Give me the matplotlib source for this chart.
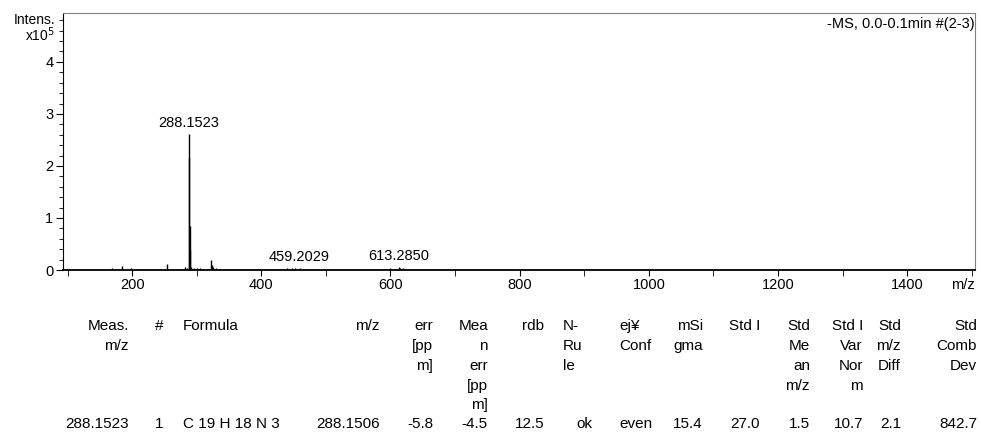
import matplotlib
matplotlib.use("Agg")
import matplotlib.pyplot as plt
from matplotlib.ticker import MultipleLocator

plt.rcParams['font.family'] = ['Liberation Sans', 'DejaVu Sans']

# spectrum (m/z, intensity x10^5)
mz = [169.0, 184.5, 198.5, 213.0, 253.7, 276.0, 282.0, 285.5,
      288.15, 288.6, 289.15, 290.15, 291.2, 296.0, 300.0, 305.0, 310.0,
      322.3, 323.3, 325.0, 330.0, 336.0, 342.0, 350.0, 356.0, 362.0,
      370.0, 378.0, 386.0, 395.0, 405.0, 418.0, 440.0, 447.0, 452.0,
      459.2, 464.0, 575.0, 583.0, 592.0, 600.0, 606.0, 613.3, 615.0,
      620.0, 628.0, 636.0, 645.0, 655.0, 672.0, 700.0, 740.0, 790.0,
      840.0, 880.0, 905.0]
intens = [0.045, 0.08, 0.03, 0.02, 0.12, 0.02, 0.05, 0.04,
          2.62, 2.15, 0.85, 0.38, 0.06, 0.03, 0.03, 0.03, 0.02,
          0.19, 0.10, 0.05, 0.03, 0.02, 0.02, 0.02, 0.02, 0.02,
          0.02, 0.02, 0.02, 0.02, 0.015, 0.015, 0.03, 0.04, 0.03,
          0.04, 0.02, 0.02, 0.02, 0.02, 0.03, 0.02, 0.06, 0.04,
          0.03, 0.02, 0.02, 0.02, 0.02, 0.02, 0.015, 0.015, 0.015,
          0.02, 0.015, 0.015]

peak_labels = ["288.1523", "459.2029", "613.2850"]
peak_mz = [288.15, 459.2, 613.3]
peak_h = [2.62, 0.04, 0.06]

# result table
headers = [["Meas.", "m/z"], ["#"], ["Formula"], ["m/z"], ["err", "[pp", "m]"],
           ["Mea", "n", "err", "[pp", "m]"], ["rdb"], ["N-", "Ru", "le"],
           ["ej¥", "Conf"], ["mSi", "gma"], ["Std I"], ["Std", "Me", "an", "m/z"],
           ["Std I", "Var", "Nor", "m"], ["Std", "m/z", "Diff"], ["Std", "Comb", "Dev"]]
row = ["288.1523", "1", "C 19 H 18 N 3", "288.1506", "-5.8", "-4.5", "12.5",
       "ok", "even", "15.4", "27.0", "1.5", "10.7", "2.1", "842.7"]

W, H = 981, 434
fig = plt.figure(figsize=(W / 100, H / 100), dpi=100)
ax = fig.add_axes([63 / W, (H - 270) / H, (975 - 63) / W, (270 - 13) / H])

ax.vlines(mz, 0, intens, color='black', lw=1.0)
ax.set_xlim(93, 1505)
ax.set_ylim(0, 4.94)

ax.xaxis.set_major_locator(MultipleLocator(200))
ax.xaxis.set_minor_locator(MultipleLocator(100))
ax.yaxis.set_major_locator(MultipleLocator(1))
ax.yaxis.set_minor_locator(MultipleLocator(0.2))
ax.tick_params(axis='both', which='both', direction='out', color='black',
               labelsize=10.5, pad=2)
ax.tick_params(axis='x', which='both', length=4)
ax.tick_params(axis='y', which='major', length=5)
ax.tick_params(axis='y', which='minor', length=3)
for s in ['top', 'right']:
    ax.spines[s].set_color('#808080')
ax.spines['bottom'].set_linewidth(1.3)

for lab, x, y in zip(peak_labels, peak_mz, peak_h):
    ax.annotate(lab, (x, y), xytext=(0, 3), textcoords='offset points',
                ha='center', va='bottom', fontsize=10.5)

ax.text(0.9995, 0.985, "-MS, 0.0-0.1min #(2-3)", transform=ax.transAxes,
        ha='right', va='top', fontsize=10.5)
fig.text(55 / W, 1 - 20 / H, "Intens.", ha='right', va='center', fontsize=10)
fig.text(55 / W, 1 - 35 / H, "x10$^5$", ha='right', va='center', fontsize=10)
fig.text(975 / W, 1 - 285 / H, "m/z", ha='right', va='center', fontsize=10.5)

# table layout (pixel positions)
col_x = [129, 159, 183, 380, 433, 488, 544, 563, 619, 703, 760, 810, 863, 901, 977]
col_ha = ['right', 'center', 'left', 'right', 'right', 'right', 'right', 'left',
          'left', 'right', 'right', 'right', 'right', 'right', 'right']
head_y = [326, 346, 366, 386, 405]
data_y = 424
data_x = list(col_x)
data_x[7] = 592
data_ha = list(col_ha)
data_ha[7] = 'right'

for lines, x, ha in zip(headers, col_x, col_ha):
    for line, y in zip(lines, head_y):
        fig.text(x / W, 1 - y / H, line, ha=ha, va='center', fontsize=11)
for val, x, ha in zip(row, data_x, data_ha):
    fig.text(x / W, 1 - data_y / H, val, ha=ha, va='center', fontsize=11)

fig.savefig("out.png", dpi=100)
